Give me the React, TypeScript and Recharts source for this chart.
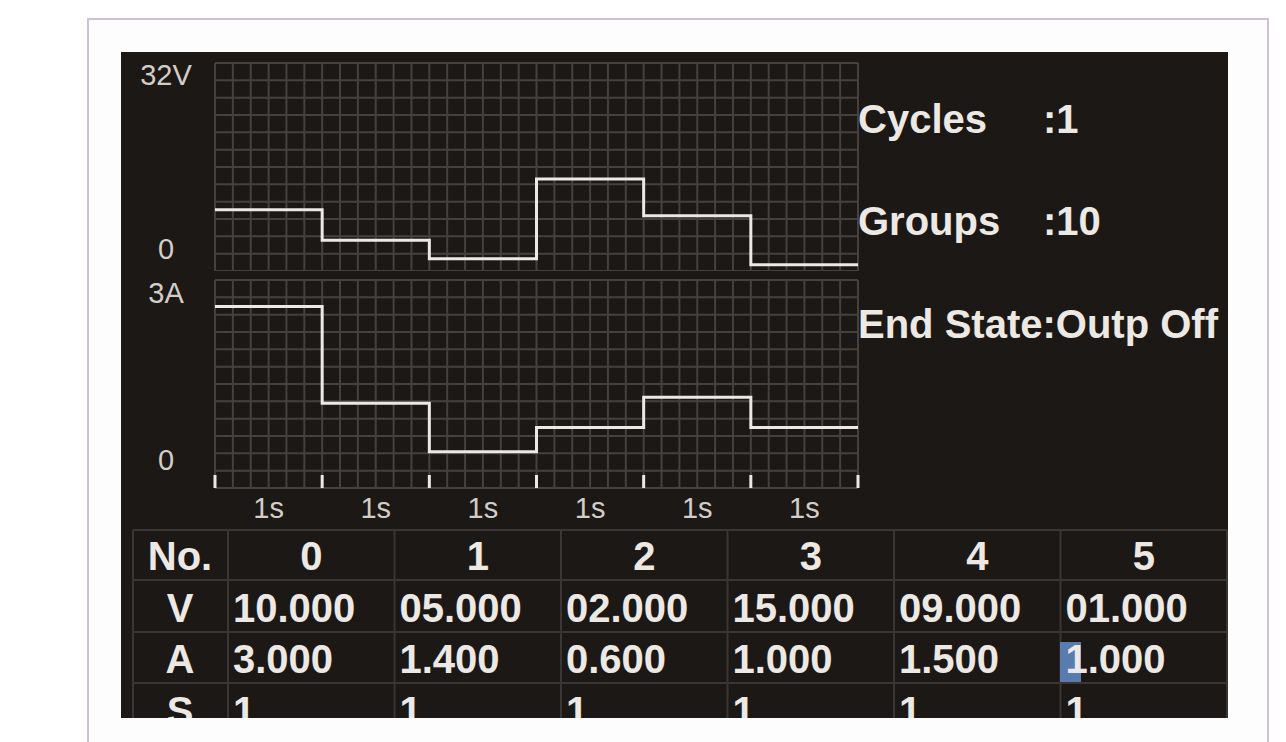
import { LineChart, Line, XAxis, YAxis, CartesianGrid } from "recharts";

// sequence list as shown on the supply's screen
const stepNos = [0, 1, 2, 3, 4, 5];
const voltage = [10, 5, 2, 15, 9, 1];
const current = [3, 1.4, 0.6, 1, 1.5, 1];
const seconds = [1, 1, 1, 1, 1, 1];

const voltTicks = [0, 32];
const ampTicks = [0, 3];
const voltMax = 33.9;
const ampMax = 3.44;

const cycles = 1;
const groups = 10;
const endState = "Outp Off";

const starts = seconds.map((_, i) => seconds.slice(0, i).reduce((a, b) => a + b, 0));
const total = seconds.reduce((a, b) => a + b, 0);
const chartData = [
  ...stepNos.map((n, i) => ({ t: starts[i], v: voltage[i], a: current[i] })),
  { t: total, v: voltage[voltage.length - 1], a: current[current.length - 1] },
];
const secTicks = [...starts, total];
const labelTicks = starts.map((s, i) => s + seconds[i] / 2);
const timeTicks = [...secTicks, ...labelTicks].sort((a, b) => a - b);

const BG = "#1c1816";
const GRID = "#47403d";
const FG = "#ece8e4";
const LABEL = "#d2cdc8";
const FONT = "Liberation Sans, Arial, sans-serif";

const gridX = Array.from({ length: 37 }, (_, i) => (total * i) / 36);
const gridV = Array.from({ length: 13 }, (_, i) => (voltMax * i) / 12);
const gridA = Array.from({ length: 13 }, (_, i) => (ampMax * i) / 12);

function AxisLabel(props: any) {
  const { x, y, payload, unit, topShift, zeroShift } = props;
  const v = payload.value;
  const text = v === 0 ? "0" : `${v}${unit}`;
  return (
    <text
      x={x - 49}
      y={y + (v === 0 ? zeroShift : topShift)}
      dy="0.36em"
      textAnchor="middle"
      fill={LABEL}
      fontSize={29}
      fontFamily={FONT}
    >
      {text}
    </text>
  );
}

// whole-second boundaries get a short mark, the middles get the duration label
function TimeTick(props: any) {
  const { x, y, payload } = props;
  const t = payload.value;
  const idx = labelTicks.indexOf(t);
  if (idx < 0) {
    return <line x1={x} x2={x} y1={y} y2={y - 13} stroke={FG} strokeWidth={3} />;
  }
  return (
    <text x={x} y={y + 9} dy="0.71em" textAnchor="middle" fill={LABEL} fontSize={29} fontFamily={FONT}>
      {`${seconds[idx]}s`}
    </text>
  );
}

function NoTick() {
  return <g />;
}

const colEdges = [133, 228, 394.5, 561, 727.5, 894, 1060.5, 1227];
const rowLines = [530, 580, 632, 683];

function fmtV(v: number) {
  return v.toFixed(3).padStart(6, "0");
}

export default function App() {
  const txt = { fill: FG, fontSize: 40, fontWeight: 700, fontFamily: FONT } as const;
  return (
    <div style={{ position: "absolute", left: 0, top: 0, width: 1286, height: 742, background: "#fff", overflow: "hidden" }}>
      <svg width={1286} height={742} style={{ position: "absolute", left: 0, top: 0 }}>
        <rect x={88} y={19} width={1180} height={740} fill="#fefdfe" stroke="#cbc2d6" strokeWidth={2} />
        <rect x={121} y={52} width={1107} height={666} fill={BG} />

        <text x={858} y={133} {...txt}>Cycles</text>
        <text x={1043} y={133} {...txt}>:{cycles}</text>
        <text x={858} y={235} {...txt}>Groups</text>
        <text x={1043} y={235} {...txt}>:{groups}</text>
        <text x={858} y={338} {...txt}>End State:{endState}</text>

        <g clipPath="url(#scr)">
          <defs>
            <clipPath id="scr">
              <rect x={121} y={52} width={1107} height={666} />
            </clipPath>
          </defs>
          {rowLines.map((y) => (
            <line key={y} x1={133} x2={1227} y1={y} y2={y} stroke="#3b3533" strokeWidth={2} />
          ))}
          {colEdges.map((x) => (
            <line key={x} x1={x} x2={x} y1={530} y2={718} stroke="#3b3533" strokeWidth={2} />
          ))}
          <rect x={1060} y={642} width={21} height={40} fill="#5a7bb0" />

          <text x={180} y={570} textAnchor="middle" {...txt}>No.</text>
          <text x={180} y={622} textAnchor="middle" {...txt}>V</text>
          <text x={180} y={673} textAnchor="middle" {...txt}>A</text>
          <text x={180} y={725} textAnchor="middle" {...txt}>S</text>
          {stepNos.map((n, i) => {
            const left = colEdges[i + 1];
            const mid = (colEdges[i + 1] + colEdges[i + 2]) / 2;
            return (
              <g key={n}>
                <text x={mid} y={570} textAnchor="middle" {...txt}>{n}</text>
                <text x={left + 5} y={622} {...txt}>{fmtV(voltage[i])}</text>
                <text x={left + 5} y={673} {...txt}>{current[i].toFixed(3)}</text>
                <text x={left + 5} y={725} {...txt}>{seconds[i]}</text>
              </g>
            );
          })}
        </g>
      </svg>

      <div style={{ position: "absolute", left: 121, top: 52 }}>
        <LineChart width={747} height={219} data={chartData} margin={{ top: 11, right: 10, bottom: 0, left: 0 }}>
          <CartesianGrid stroke={GRID} strokeWidth={2} verticalValues={gridX} horizontalValues={gridV} />
          <XAxis
            dataKey="t"
            type="number"
            domain={[0, total]}
            ticks={secTicks}
            interval={0}
            height={0}
            tick={<NoTick />}
            axisLine={false}
            tickLine={false}
            tickSize={0}
          />
          <YAxis
            type="number"
            domain={[0, voltMax]}
            ticks={voltTicks}
            interval={0}
            width={94}
            axisLine={false}
            tickLine={false}
            tickSize={0}
            tickMargin={0}
            tick={<AxisLabel unit="V" topShift={0} zeroShift={-22} />}
          />
          <Line type="stepAfter" dataKey="v" stroke={FG} strokeWidth={3} dot={false} isAnimationActive={false} />
        </LineChart>
      </div>

      <div style={{ position: "absolute", left: 121, top: 272 }}>
        <LineChart width={747} height={252} data={chartData} margin={{ top: 8, right: 10, bottom: 0, left: 0 }}>
          <CartesianGrid stroke={GRID} strokeWidth={2} verticalValues={gridX} horizontalValues={gridA} />
          <XAxis
            dataKey="t"
            type="number"
            domain={[0, total]}
            ticks={timeTicks}
            interval={0}
            height={36}
            axisLine={false}
            tickLine={false}
            tickSize={0}
            tickMargin={0}
            tick={<TimeTick />}
          />
          <YAxis
            type="number"
            domain={[0, ampMax]}
            ticks={ampTicks}
            interval={0}
            width={94}
            axisLine={false}
            tickLine={false}
            tickSize={0}
            tickMargin={0}
            tick={<AxisLabel unit="A" topShift={-14} zeroShift={-28} />}
          />
          <Line type="stepAfter" dataKey="a" stroke={FG} strokeWidth={3} dot={false} isAnimationActive={false} />
        </LineChart>
      </div>
    </div>
  );
}
